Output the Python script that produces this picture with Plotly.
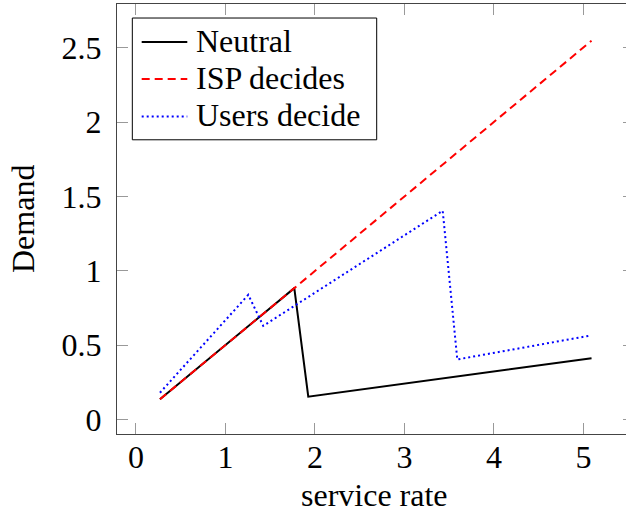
import plotly.graph_objects as go

# Data
neutral_x = [0.268, 1.769, 1.925, 5.09]
neutral_y = [0.135, 0.883, 0.152, 0.411]

isp_x = [0.268, 1.769, 5.09]
isp_y = [0.135, 0.883, 2.549]

users_x = [0.268, 1.255, 1.422, 3.427, 3.59, 5.08]
users_y = [0.179, 0.838, 0.629, 1.404, 0.403, 0.564]

x_ticks = [0, 1, 2, 3, 4, 5]
y_ticks = [0, 0.5, 1, 1.5, 2, 2.5]
y_tick_labels = ["0", "0.5", "1", "1.5", "2", "2.5"]

series_names = ["Neutral", "ISP decides", "Users decide"]
series_colors = ["black", "#ff0000", "#0000ff"]
series_dash = ["solid", "8px,5px", "2px,3px"]

FONT = "Liberation Serif"
FS = 32

fig = go.Figure()
for xs, ys, name, col, dash in zip([neutral_x, isp_x, users_x], [neutral_y, isp_y, users_y],
                                   series_names, series_colors, series_dash):
    fig.add_trace(go.Scatter(x=xs, y=ys, mode="lines", name=name, showlegend=False,
                             line=dict(color=col, width=2, dash=dash)))
# helper trace for right-side tick marks
fig.add_trace(go.Scatter(x=[], y=[], yaxis="y2", showlegend=False, hoverinfo="skip"))

axis_common = dict(
    showgrid=False, zeroline=False, showline=True, linecolor="#444444", linewidth=1.3,
    ticks="inside", ticklen=11, tickwidth=1, tickcolor="#999999", automargin=False,
    tickfont=dict(family=FONT, size=FS, color="black"),
)

# legend drawn as a framed box (paper coordinates)
leg_box = dict(x0=0.0301, x1=0.5102, y0=0.6842, y1=0.9674)
leg_rows = [0.9116, 0.8255, 0.7384]
shapes = [dict(type="rect", xref="paper", yref="paper", layer="above",
               line=dict(color="black", width=1), fillcolor="white", **leg_box)]
annotations = []
for ry, name, col, dash in zip(leg_rows, series_names, series_colors, series_dash):
    shapes.append(dict(type="line", xref="paper", yref="paper", layer="above",
                       x0=0.0485, x1=0.1381, y0=ry, y1=ry,
                       line=dict(color=col, width=2, dash=dash)))
    annotations.append(dict(text=name, xref="paper", yref="paper", x=0.1505, y=ry + 0.0035,
                            xanchor="left", yanchor="middle", showarrow=False,
                            font=dict(family=FONT, size=FS, color="black")))

annotations += [
    dict(text="service rate", xref="paper", yref="paper", x=0.505, y=-0.143,
         xanchor="center", yanchor="middle", showarrow=False,
         font=dict(family=FONT, size=FS, color="black")),
    dict(text="Demand", xref="paper", yref="paper", x=-0.1847, y=0.5,
         xanchor="center", yanchor="middle", textangle=-90, showarrow=False,
         font=dict(family=FONT, size=FS, color="black")),
]

fig.update_layout(
    width=626, height=512,
    margin=dict(l=117, r=0, t=4, b=78, autoexpand=False),
    paper_bgcolor="white", plot_bgcolor="white",
    font=dict(family=FONT, size=FS, color="black"),
    xaxis=dict(range=[-0.212, 5.475], tickvals=x_ticks, mirror="ticks",
               ticklabelstandoff=-6, **axis_common),
    yaxis=dict(range=[-0.099, 2.796], tickvals=y_ticks, ticktext=y_tick_labels,
               ticklabelstandoff=8, **axis_common),
    yaxis2=dict(overlaying="y", side="right", matches="y", range=[-0.099, 2.796],
                tickvals=y_ticks, showticklabels=False, showline=False, showgrid=False,
                zeroline=False, ticks="inside", ticklen=3, tickcolor="#999999",
                automargin=False),
    showlegend=False,
    shapes=shapes,
    annotations=annotations,
)

fig.write_html("out.html", config={"displayModeBar": False},
               post_script="document.body.style.margin='0px';document.body.style.overflow='hidden';")
